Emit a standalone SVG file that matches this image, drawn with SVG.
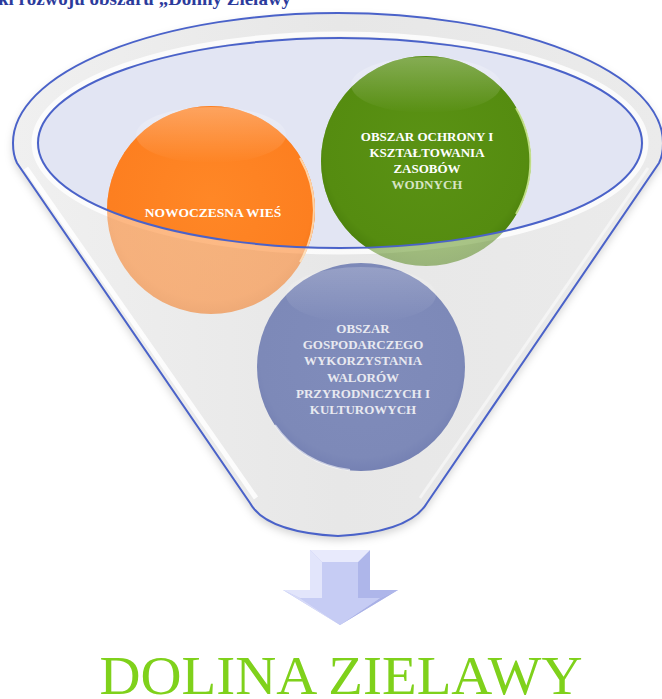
<svg xmlns="http://www.w3.org/2000/svg" width="662" height="699" viewBox="0 0 662 699">
<style>
.rimline{fill:none;stroke:#4a62c9;stroke-width:2}
.lbl{font-family:"Liberation Serif","DejaVu Serif",serif;font-weight:bold;text-anchor:middle}
.title{font-family:"Liberation Serif","DejaVu Serif",serif;font-weight:bold;font-size:19px;fill:#2c3b9c}
.big{font-family:"Liberation Serif","DejaVu Serif",serif;font-size:55px;fill:#7fd11b}
</style>
<defs>
<linearGradient id="bodyG" x1="0" y1="0" x2="1" y2="0">
<stop offset="0" stop-color="#f0f0f0"/>
<stop offset="0.5" stop-color="#e7e7e7"/>
<stop offset="1" stop-color="#ebebeb"/>
</linearGradient>
<radialGradient id="oG" cx="0.5" cy="0.45" r="0.55">
<stop offset="0" stop-color="#ff8726"/>
<stop offset="0.88" stop-color="#fd7f20"/>
<stop offset="1" stop-color="#f27518"/>
</radialGradient>
<radialGradient id="gG" cx="0.5" cy="0.45" r="0.55">
<stop offset="0" stop-color="#5a9214"/>
<stop offset="0.88" stop-color="#558c10"/>
<stop offset="1" stop-color="#4b800c"/>
</radialGradient>
<radialGradient id="bG" cx="0.5" cy="0.45" r="0.55">
<stop offset="0" stop-color="#808cbb"/>
<stop offset="0.88" stop-color="#7d89b8"/>
<stop offset="1" stop-color="#7581b3"/>
</radialGradient>
<linearGradient id="gloss" x1="0" y1="0" x2="0" y2="1">
<stop offset="0" stop-color="#ffffff" stop-opacity="0.28"/>
<stop offset="1" stop-color="#ffffff" stop-opacity="0"/>
</linearGradient>
<clipPath id="inEll"><ellipse cx="340" cy="143" rx="302" ry="105"/></clipPath>
<filter id="sh" x="-10%" y="-10%" width="120%" height="130%">
<feDropShadow dx="0" dy="4" stdDeviation="4" flood-color="#000" flood-opacity="0.18"/>
</filter>
</defs>

<text class="title" x="-2" y="5">ki rozwoju obszaru „Doliny Zielawy”</text>

<g id="funnel">
<path d="M13,143 A325,130 0 0 1 663,143 Q663,155 659,163 L427,503 Q410,532 338,536 Q266,532 250,503 L17,163 Q13,155 13,143 Z" fill="url(#bodyG)" filter="url(#sh)"/>
<path d="M26,168 L256,498" stroke="#ffffff" stroke-width="5" stroke-opacity="0.85" fill="none"/>
<path d="M648,168 L420,498" stroke="#ffffff" stroke-width="3" stroke-opacity="0.5" fill="none"/>
<ellipse cx="340" cy="143" rx="306" ry="109" fill="none" stroke="#ffffff" stroke-width="5" stroke-opacity="0.8"/>
<ellipse cx="340" cy="143" rx="302" ry="105" fill="#e2e5f3"/>
</g>

<g id="node-orange">
<circle cx="211" cy="210" r="104" fill="url(#oG)" opacity="0.55"/>
<g clip-path="url(#inEll)">
<circle cx="211" cy="210" r="104" fill="url(#oG)"/>
<ellipse cx="211" cy="135" rx="75" ry="28" fill="url(#gloss)"/>
</g>
<path d="M300,158 A104,104 0 0 1 300,262" fill="none" stroke="#ffe8c8" stroke-width="2" stroke-opacity="0.8"/>
<text class="lbl" x="213" y="217" font-size="13.5" fill="#ffffff">NOWOCZESNA WIEŚ</text>
</g>

<g id="node-green">
<circle cx="426" cy="161" r="105" fill="url(#gG)" opacity="0.5"/>
<g clip-path="url(#inEll)">
<circle cx="426" cy="161" r="105" fill="url(#gG)"/>
<ellipse cx="426" cy="85" rx="75" ry="28" fill="url(#gloss)"/>
</g>
<path d="M516,108 A105,105 0 0 1 516,214" fill="none" stroke="#d8f0a0" stroke-width="2" stroke-opacity="0.8"/>
<text class="lbl" x="427" y="141" font-size="13" fill="#ffffff">OBSZAR OCHRONY I</text>
<text class="lbl" x="427" y="157" font-size="13" fill="#ffffff">KSZTAŁTOWANIA</text>
<text class="lbl" x="427" y="173" font-size="13" fill="#ffffff">ZASOBÓW</text>
<text class="lbl" x="427" y="189" font-size="13" fill="#d6e4c4" font-weight="normal">WODNYCH</text>
</g>

<g id="rim-lines">
<ellipse cx="340" cy="143" rx="302" ry="105" class="rimline"/>
<path d="M17,163 Q13,155 13,143 A325,130 0 0 1 663,143 Q663,155 659,163 L427,503 Q410,532 338,536 Q266,532 250,503 Z" class="rimline"/>
</g>

<g id="node-blue">
<circle cx="361" cy="367" r="104" fill="url(#bG)"/>
<ellipse cx="361" cy="295" rx="75" ry="28" fill="url(#gloss)" opacity="0.7"/>
<path d="M275,425 A104,104 0 0 0 350,470" fill="none" stroke="#ffffff" stroke-width="2" stroke-opacity="0.6"/>
<text class="lbl" x="363" y="333" font-size="13" fill="#e8e9f0">OBSZAR</text>
<text class="lbl" x="363" y="349" font-size="13" fill="#e8e9f0">GOSPODARCZEGO</text>
<text class="lbl" x="363" y="365" font-size="13" fill="#e8e9f0">WYKORZYSTANIA</text>
<text class="lbl" x="363" y="382" font-size="13" fill="#e8e9f0">WALORÓW</text>
<text class="lbl" x="363" y="398" font-size="13" fill="#e8e9f0">PRZYRODNICZYCH I</text>
<text class="lbl" x="363" y="414" font-size="13" fill="#e8e9f0">KULTUROWYCH</text>
</g>

<g id="connectors">
<path d="M310,550 L370,550 L370,590 L398,590 L340,625 L283,590 L310,590 Z" fill="#c3c9f2"/>
<path d="M310,550 L322,562 L322,598 L300,598 L283,590 L310,590 Z" fill="#e2e5fb"/>
<path d="M370,550 L358,562 L358,598 L380,598 L398,590 L370,590 Z" fill="#aeb6ea"/>
<path d="M310,550 L370,550 L358,562 L322,562 Z" fill="#e8eafc"/>
<path d="M300,598 L340,625 L283,590 Z" fill="#d6daf8"/>
<path d="M380,598 L340,625 L398,590 Z" fill="#a9b1e6"/>
<path d="M322,562 L358,562 L358,598 L380,598 L340,625 L300,598 L322,598 Z" fill="#c6ccf4"/>
</g>

<g id="result">
<text class="big" x="341" y="694" text-anchor="middle" textLength="483" lengthAdjust="spacingAndGlyphs">DOLINA ZIELAWY</text>
</g>
</svg>
